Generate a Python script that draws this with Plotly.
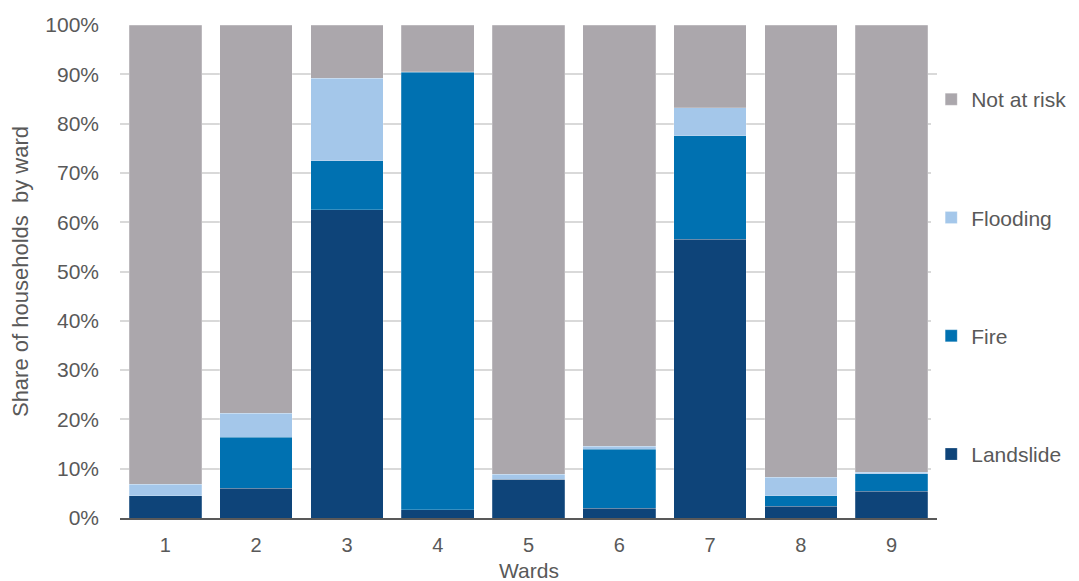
import plotly.graph_objects as go

wards = ["1", "2", "3", "4", "5", "6", "7", "8", "9"]
landslide = [4.5, 6.0, 62.5, 1.7, 7.9, 2.0, 56.5, 2.4, 5.4]
fire = [0.0, 10.4, 10.0, 88.7, 0.0, 11.9, 21.0, 2.1, 3.6]
flooding = [2.3, 4.8, 16.7, 0.1, 1.0, 0.7, 5.7, 3.8, 0.3]
not_at_risk = [round(100 - a - b - c, 1) for a, b, c in zip(landslide, fire, flooding)]

series = [
    ("Landslide", landslide, "#0E4479", 4),
    ("Fire", fire, "#0071B1", 3),
    ("Flooding", flooding, "#A4C7EA", 2),
    ("Not at risk", not_at_risk, "#ABA7AC", 1),
]

fig = go.Figure()
for name, vals, col, rank in series:
    fig.add_trace(go.Bar(
        x=wards, y=vals, name=name, legendgroup=name, legendrank=rank,
        marker=dict(color=col, line=dict(color="rgba(255,255,255,0.35)", width=0.6)),
    ))

font_fam = "Liberation Sans, Arial, sans-serif"
fig.update_layout(
    barmode="stack",
    bargap=0.2,
    width=1071, height=573,
    margin=dict(l=112, r=142, t=17, b=63, autoexpand=False),
    plot_bgcolor="white", paper_bgcolor="white",
    font=dict(family=font_fam, color="#595959", size=21),
    legend=dict(
        traceorder="grouped", tracegroupgap=88,
        xref="container", yref="container",
        x=0.862, xanchor="left", y=0.876, yanchor="top",
        maxheight=520,
        font=dict(size=21, color="#595959"),
        itemclick=False,
    ),
    xaxis=dict(
        showline=True, linecolor="#595959", linewidth=1.5,
        ticks="", tickfont=dict(size=20), ticklabelstandoff=8,
        automargin=False,
    ),
    yaxis=dict(
        title=dict(text="Share of households  by ward", standoff=16, font=dict(size=22)),
        range=[0, 100], dtick=10, ticksuffix="%",
        showgrid=True, gridcolor="#D9D9D9", gridwidth=1.5,
        zeroline=False, tickfont=dict(size=21), ticklabelstandoff=20,
        automargin=False,
    ),
    annotations=[dict(
        text="Wards", xref="paper", yref="paper", x=0.5, y=-0.106,
        xanchor="center", yanchor="middle", showarrow=False,
        font=dict(size=21, color="#595959"),
    )],
)

fig.write_html("out.html")
